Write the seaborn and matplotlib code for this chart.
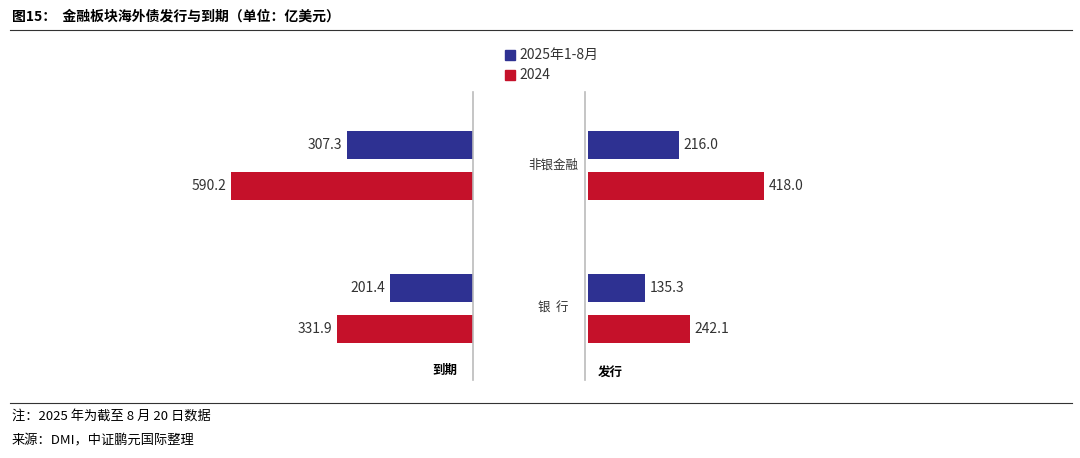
import matplotlib
matplotlib.use("Agg")
import matplotlib.pyplot as plt
import seaborn as sns
import pandas as pd
from matplotlib.lines import Line2D
from matplotlib.patches import Rectangle

plt.rcParams["font.family"] = ["Noto Sans CJK SC", "DejaVu Sans"]

categories = ["非银金融", "银行"]
series = ["2025年1-8月", "2024"]
maturity_2025 = [307.3, 201.4]
maturity_2024 = [590.2, 331.9]
issue_2025 = [216.0, 135.3]
issue_2024 = [418.0, 242.1]
colors = ["#2E3192", "#C5112A"]

W, H = 1080, 458
fig = plt.figure(figsize=(W / 100, H / 100), dpi=100)

def frac(x0, y_top, w, h):
    return [x0 / W, (H - y_top - h) / H, w / W, h / H]

top, bottom = 100, 380
axL = fig.add_axes(frac(473 - 0.41 * 700, top, 0.41 * 700, bottom - top))
axR = fig.add_axes(frac(588, top, 0.42 * 700, bottom - top))

def build(v25, v24):
    return pd.DataFrame({
        "cat": categories * 2,
        "series": [series[0]] * 2 + [series[1]] * 2,
        "val": list(v25) + list(v24),
    })

for ax, (v25, v24), side in [(axL, (maturity_2025, maturity_2024), "L"),
                             (axR, (issue_2025, issue_2024), "R")]:
    df = build(v25, v24)
    sns.barplot(data=df, y="cat", x="val", hue="series", order=categories,
                hue_order=series, palette=colors, orient="h", width=0.5,
                ax=ax, legend=False, saturation=1)
    for p in ax.patches:
        c = p.get_y() + p.get_height() / 2
        g = round(c)
        nc = g - 0.143 if c < g else g + 0.143
        p.set_height(0.196)
        p.set_y(nc - 0.098)
        w = p.get_width()
        off = 12
        ax.text(w + off if side == "R" else w + off, nc, f"{w:.1f}",
                ha="left" if side == "R" else "right", va="center",
                fontsize=10, color="#333333")
    ax.set_xlim((700, 0) if side == "L" else (0, 700))
    ax.set_ylim(1.5, -0.458)
    ax.axis("off")

for i, c in enumerate(categories):
    y = 165.5 + 143 * i
    fig.text(553 / W, 1 - y / H, "  ".join(c) if len(c) == 2 else c,
             ha="center", va="center", fontsize=9, color="#333333")
fig.text(445 / W, 1 - 370 / H, "到期", ha="center", va="center", fontsize=9, fontweight="bold")
fig.text(610 / W, 1 - 372 / H, "发行", ha="center", va="center", fontsize=9, fontweight="bold")

for x in (473, 585):
    fig.add_artist(Line2D([x / W, x / W], [1 - 92 / H, 1 - 380 / H], color="#BBBBBB", lw=1.2))

for i, (lab, col) in enumerate(zip(series, colors)):
    y = 55 + 20 * i
    fig.add_artist(Rectangle((505 / W, 1 - (y + 5) / H), 10 / W, 10 / H, color=col))
    fig.text(519 / W, 1 - y / H, lab, ha="left", va="center", fontsize=10, color="#333333")

fig.text(12 / W, 1 - 17 / H, "图15：  金融板块海外债发行与到期（单位：亿美元）",
         ha="left", va="center", fontsize=10, fontweight="bold")
fig.add_artist(Line2D([10 / W, 1072 / W], [1 - 30 / H] * 2, color="#333333", lw=0.8))
fig.add_artist(Line2D([10 / W, 1072 / W], [1 - 403 / H] * 2, color="#333333", lw=0.8))
fig.text(12 / W, 1 - 416 / H, "注：2025 年为截至 8 月 20 日数据", ha="left", va="center", fontsize=9.5)
fig.text(12 / W, 1 - 441 / H, "来源：DMI，中证鹏元国际整理", ha="left", va="center", fontsize=9.5)

fig.savefig("out.png", dpi=100)
